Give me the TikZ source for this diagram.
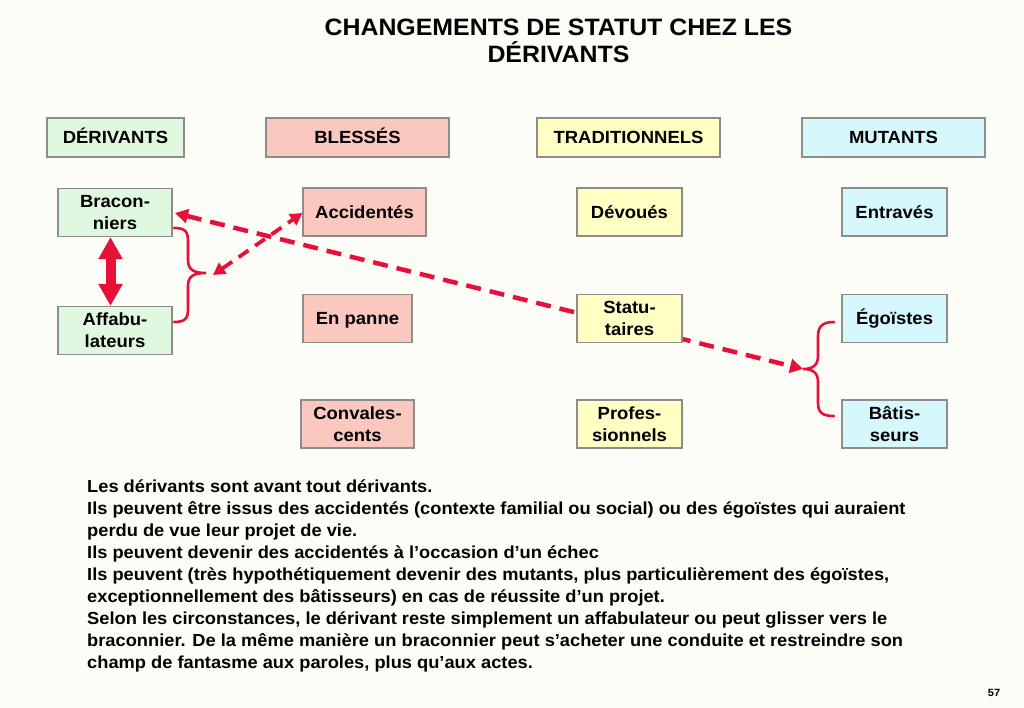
\documentclass[tikz,border=0pt]{standalone}
\usepackage{fontspec}
\setmainfont{Liberation Sans}[FakeStretch=1.05]
\usetikzlibrary{arrows.meta}
\definecolor{bg}{RGB}{253,253,248}
\definecolor{cgreen}{RGB}{224,248,224}
\definecolor{cpink}{RGB}{250,200,190}
\definecolor{cyellow}{RGB}{255,255,196}
\definecolor{ccyan}{RGB}{214,248,252}
\definecolor{cborder}{RGB}{140,140,140}
\definecolor{cred}{RGB}{232,16,56}
\tikzset{
  box/.style={draw=cborder, line width=1.3pt, inner sep=0pt, align=center,
    font=\fontsize{17.6}{22}\selectfont\bfseries},
  one/.style={text height=12.8pt, text depth=0pt},
  hdr/.style={box, one, minimum height=39pt},
  itm/.style={box, minimum height=48pt},
  gbox/.style={fill=cgreen},
  pbox/.style={fill=cpink},
  ybox/.style={fill=cyellow},
  cbox/.style={fill=ccyan},
  redbrace/.style={draw=cred, line width=2.6pt, line cap=round},
  longdash/.style={draw=cred, line width=4.5pt, dash pattern=on 15pt off 9pt,
    {Triangle[width=14pt,length=13pt]}-{Triangle[width=14pt,length=13pt]}},
  shortdash/.style={draw=cred, line width=3.8pt, dash pattern=on 12pt off 8pt,
    {Triangle[width=13pt,length=12pt]}-{Triangle[width=13pt,length=12pt]}},
  bigarrow/.style={draw=cred, line width=10pt,
    {Triangle[width=23pt,length=22pt]}-{Triangle[width=23pt,length=22pt]}},
}
\begin{document}
\begin{tikzpicture}[x=1pt,y=-1pt]
\useasboundingbox[fill=bg] (0,0) rectangle (1024,708);
% title
\node[font=\fontsize{23.7}{27}\selectfont\bfseries, align=center] (title) at (558.5,41)
  {CHANGEMENTS DE STATUT CHEZ LES\\DÉRIVANTS};
% long dashed arrow (behind boxes)
\coordinate (bracR) at (175,213);
\coordinate (cuspR) at (803,369);
\draw[longdash] (bracR) -- (cuspR);
% headers
\node[hdr,gbox,minimum width=137pt] (hD) at (115.5,137.5) {DÉRIVANTS};
\node[hdr,pbox,minimum width=183pt] (hB) at (357.5,137.5) {BLESSÉS};
\node[hdr,ybox,minimum width=183pt] (hT) at (628.5,137.5) {TRADITIONNELS};
\node[hdr,cbox,minimum width=183pt] (hM) at (893.5,137.5) {MUTANTS};
% items
\node[itm,gbox,minimum width=114pt] (brac) at (115,212.5) {Bracon-\\niers};
\node[itm,gbox,minimum width=114pt] (affa) at (115,330.5) {Affabu-\\lateurs};
\node[itm,one,pbox,minimum width=123pt] (acc) at (364.5,212) {Accidentés};
\node[itm,one,pbox,minimum width=109pt] (pan) at (357.5,318.5) {En panne};
\node[itm,pbox,minimum width=113pt] (conv) at (357.5,424) {Convales-\\cents};
\node[itm,one,ybox,minimum width=105pt] (dev) at (629.5,212) {Dévoués};
\node[itm,ybox,minimum width=105pt] (stat) at (629.5,318.5) {Statu-\\taires};
\node[itm,ybox,minimum width=105pt] (prof) at (629.5,424) {Profes-\\sionnels};
\node[itm,one,cbox,minimum width=105pt] (entr) at (894.5,212) {Entravés};
\node[itm,one,cbox,minimum width=105pt] (ego) at (894.5,318.5) {Égoïstes};
\node[itm,cbox,minimum width=105pt] (bat) at (894.5,424) {Bâtis-\\seurs};
% big double arrow
\draw[bigarrow] (brac.south -| 110.5,0) -- (affa.north -| 110.5,0);
% left brace
\coordinate (lcusp) at (206,273);
\draw[redbrace] (174,228) .. controls (186,228) and (188,232) .. (188,242)
  -- (188,260) .. controls (188,270) and (194,273) .. (lcusp)
  .. controls (194,273) and (188,276) .. (188,286)
  -- (188,308) .. controls (188,318) and (186,322) .. (174,322);
% short dashed double arrow
\coordinate (sdA) at (213,275);
\draw[shortdash] (sdA) -- (acc.west |- 0,213);
% right brace
\draw[redbrace] (834,322) .. controls (823,322) and (818,326) .. (818,336)
  -- (818,356) .. controls (818,366) and (812,369) .. (cuspR)
  .. controls (812,369) and (818,372) .. (818,382)
  -- (818,403) .. controls (818,413) and (823,416) .. (834,416);
% body text
\node[anchor=north west, inner sep=0pt, align=left,
  font=\fontsize{17.4}{22}\selectfont\bfseries] (body) at (87,479.5)
{Les dérivants sont avant tout dérivants.\\
Ils peuvent être issus des accidentés (contexte familial ou social) ou des égoïstes qui auraient\\
perdu de vue leur projet de vie.\\
Ils peuvent devenir des accidentés à l’occasion d’un échec\\
Ils peuvent (très hypothétiquement devenir des mutants, plus particulièrement des égoïstes,\\
exceptionnellement des bâtisseurs) en cas de réussite d’un projet.\\
Selon les circonstances, le dérivant reste simplement un affabulateur ou peut glisser vers le\\
braconnier. De la même manière un braconnier peut s’acheter une conduite et restreindre son\\
champ de fantasme aux paroles, plus qu’aux actes.};
% page number
\node[font=\fontsize{10.5}{12}\selectfont\bfseries] (page) at (994,693) {57};
\end{tikzpicture}
\end{document}
